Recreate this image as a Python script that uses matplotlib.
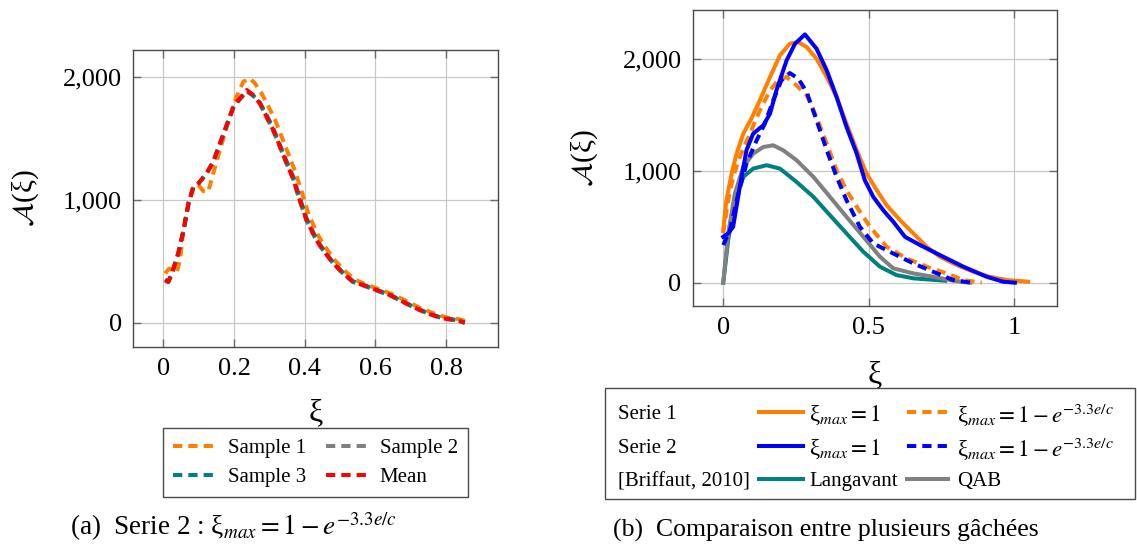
import matplotlib
matplotlib.use("Agg")
import matplotlib.pyplot as plt
from matplotlib.lines import Line2D
from matplotlib.patches import Rectangle
from matplotlib.ticker import FuncFormatter

plt.rcParams['font.family'] = ['Liberation Serif', 'DejaVu Serif']
plt.rcParams['mathtext.fontset'] = 'stix'

# ---------------- data: left panel (Serie 2) ----------------
s1_x = [0.005, 0.016, 0.028, 0.038, 0.047, 0.057, 0.071, 0.085, 0.099, 0.113, 0.127, 0.141, 0.160, 0.188,
        0.207, 0.226, 0.245, 0.259, 0.278, 0.297, 0.316, 0.335, 0.354, 0.373, 0.392, 0.411, 0.438, 0.457,
        0.486, 0.514, 0.542, 0.570, 0.608, 0.646, 0.684, 0.722, 0.760, 0.798, 0.835, 0.862]
s1_y = [401, 440, 430, 415, 509, 753, 980, 1110, 1120, 1070, 1065, 1214, 1404, 1675,
        1837, 1959, 1986, 1946, 1864, 1760, 1650, 1510, 1370, 1230, 1060, 880, 710, 620,
        505, 420, 350, 315, 275, 235, 182, 127, 82, 45, 30, 8]

s2_x = [0.005, 0.014, 0.024, 0.042, 0.057, 0.071, 0.085, 0.099, 0.122, 0.141, 0.160, 0.179, 0.198, 0.212,
        0.236, 0.254, 0.273, 0.292, 0.311, 0.330, 0.349, 0.367, 0.386, 0.405, 0.433, 0.452, 0.481, 0.509,
        0.537, 0.565, 0.603, 0.641, 0.678, 0.716, 0.754, 0.792, 0.829, 0.853]
s2_y = [340, 330, 395, 560, 750, 965, 1100, 1130, 1212, 1305, 1452, 1600, 1745, 1800,
        1880, 1845, 1780, 1670, 1560, 1425, 1290, 1168, 990, 830, 668, 588, 480, 398,
        330, 303, 262, 222, 168, 114, 68, 33, 20, 0]

s3_x = [0.005, 0.014, 0.024, 0.042, 0.057, 0.071, 0.085, 0.099, 0.122, 0.141, 0.160, 0.179, 0.198, 0.212,
        0.236, 0.254, 0.273, 0.292, 0.311, 0.330, 0.349, 0.367, 0.386, 0.405, 0.433, 0.452, 0.481, 0.509,
        0.537, 0.565, 0.603, 0.641, 0.678, 0.716, 0.754, 0.792, 0.829, 0.853]
s3_y = [345, 335, 398, 562, 752, 968, 1104, 1131, 1213, 1307, 1455, 1604, 1750, 1805,
        1885, 1848, 1790, 1690, 1580, 1445, 1310, 1190, 1015, 850, 680, 598, 488, 405,
        336, 309, 268, 228, 173, 119, 72, 37, 23, 2]

mean_x = [0.005, 0.014, 0.024, 0.042, 0.057, 0.071, 0.085, 0.099, 0.122, 0.141, 0.160, 0.179, 0.198, 0.212,
          0.236, 0.254, 0.273, 0.292, 0.311, 0.330, 0.349, 0.367, 0.386, 0.405, 0.433, 0.452, 0.481, 0.509,
          0.537, 0.565, 0.603, 0.641, 0.678, 0.716, 0.754, 0.792, 0.829, 0.853]
mean_y = [352, 333, 401, 564, 753, 970, 1106, 1133, 1214, 1309, 1458, 1607, 1756, 1810,
          1892, 1851, 1783, 1675, 1566, 1431, 1295, 1173, 997, 835, 672, 591, 482, 401,
          333, 306, 266, 225, 171, 117, 70, 35, 22, 0]

# ---------------- data: right panel ----------------
s1max1_x = [0.0, 0.011, 0.029, 0.046, 0.069, 0.097, 0.126, 0.161, 0.195, 0.229, 0.258, 0.287, 0.321, 0.356,
            0.390, 0.424, 0.459, 0.493, 0.528, 0.562, 0.608, 0.654, 0.700, 0.745, 0.803, 0.860, 0.917,
            0.975, 1.049]
s1max1_y = [470, 737, 975, 1153, 1331, 1465, 1629, 1837, 2030, 2134, 2149, 2104, 2000, 1837,
            1658, 1420, 1183, 975, 826, 692, 559, 440, 321, 232, 158, 98, 53,
            24, 9]

s2max1_x = [0.0, 0.017, 0.034, 0.057, 0.080, 0.103, 0.138, 0.161, 0.183, 0.218, 0.247, 0.281, 0.321, 0.356,
            0.390, 0.424, 0.459, 0.487, 0.516, 0.550, 0.585, 0.625, 0.677, 0.745, 0.826, 0.906, 0.963,
            1.003]
s2max1_y = [410, 440, 499, 856, 1183, 1331, 1406, 1510, 1718, 1985, 2134, 2217, 2089, 1896,
            1658, 1391, 1153, 915, 767, 648, 544, 410, 336, 247, 143, 53, 9,
            0]

s1exp_x = [0.0, 0.017, 0.034, 0.057, 0.092, 0.126, 0.161, 0.189, 0.218, 0.252, 0.287, 0.321, 0.356, 0.390,
           0.424, 0.459, 0.505, 0.562, 0.631, 0.700, 0.768, 0.826, 0.889]
s1exp_y = [440, 737, 945, 1123, 1331, 1539, 1718, 1807, 1837, 1762, 1673, 1480, 1242, 1004,
           826, 678, 499, 321, 217, 143, 83, 24, 0]

s2exp_x = [0.0, 0.023, 0.052, 0.080, 0.115, 0.143, 0.172, 0.200, 0.229, 0.258, 0.287, 0.321, 0.356, 0.390,
           0.424, 0.470, 0.516, 0.573, 0.654, 0.722, 0.791, 0.854]
s2exp_y = [336, 470, 796, 1064, 1272, 1420, 1628, 1807, 1872, 1822, 1703, 1450, 1183, 945,
           737, 499, 351, 276, 172, 98, 24, 0]

qab_x = [0.0, 0.017, 0.040, 0.069, 0.103, 0.138, 0.172, 0.206, 0.252, 0.310, 0.367, 0.424, 0.482, 0.539,
         0.585, 0.654, 0.722, 0.791, 0.849]
qab_y = [0, 440, 796, 1034, 1153, 1212, 1227, 1183, 1094, 945, 767, 588, 410, 232,
         128, 83, 53, 18, 0]

lang_x = [0.0, 0.017, 0.040, 0.069, 0.103, 0.149, 0.195, 0.252, 0.310, 0.367, 0.424, 0.482, 0.539, 0.596,
          0.654, 0.763]
lang_y = [0, 380, 737, 945, 1019, 1049, 1019, 900, 767, 603, 440, 276, 143, 68,
          39, 18]

left_xticks = [0, 0.2, 0.4, 0.6, 0.8]
right_xticks = [0, 0.5, 1]
yticks = [0, 1000, 2000]

ORANGE = '#FF8000'
GRAY = '#808080'
TEAL = '#008080'
RED = '#FF0000'
BLUE = '#0000FF'
FRAME = '#4a4a4a'

W, H = 1137, 544
fig = plt.figure(figsize=(W / 100, H / 100), dpi=100)


def fx(px):
    return px / W


def fy(py):
    return 1 - py / H


def px_rect(x0, y0, x1, y1):
    return [x0 / W, 1 - y1 / H, (x1 - x0) / W, (y1 - y0) / H]


ax1 = fig.add_axes(px_rect(133, 50, 498, 347))
ax2 = fig.add_axes(px_rect(692.7, 10, 1057.3, 306))

TICK_FS = 19
LEG_FS = 15
MATH_FS = 16.5
DASH = (2.3, 1.5)
lw = 2.9

xfmt = FuncFormatter(lambda v, _: '%g' % v)
yfmt = FuncFormatter(lambda v, _: f'{v:,.0f}')

for ax in (ax1, ax2):
    ax.grid(True, color='#c8c8c8', lw=0.9)
    ax.set_axisbelow(True)
    for sp in ax.spines.values():
        sp.set_color(FRAME)
        sp.set_linewidth(1.0)
    ax.tick_params(direction='in', length=6, width=1.0, color='#6a6a6a',
                   top=True, right=True, labelsize=TICK_FS, pad=8)
    ax.set_yticks(yticks)
    ax.xaxis.set_major_formatter(xfmt)
    ax.yaxis.set_major_formatter(yfmt)
    ax.set_ylabel(r'$\mathcal{A}$(ξ)', fontsize=21, labelpad=16)

ax1.set_xlabel('ξ', fontsize=23, labelpad=13)
ax2.set_xlabel('ξ', fontsize=23, labelpad=15)

# left panel
ax1.plot(s1_x, s1_y, color=ORANGE, lw=lw, dashes=DASH, label='Sample 1')
ax1.plot(s2_x, s2_y, color=GRAY, lw=lw, dashes=DASH, label='Sample 2')
ax1.plot(s3_x, s3_y, color=TEAL, lw=lw, dashes=DASH, label='Sample 3')
ax1.plot(mean_x, mean_y, color=RED, lw=lw, dashes=DASH, label='Mean')
ax1.set_xticks(left_xticks)
ax1.set_xlim(-0.086, 0.947)
ax1.set_ylim(-197, 2217)

# right panel
ax2.plot(lang_x, lang_y, color=TEAL, lw=lw)
ax2.plot(qab_x, qab_y, color=GRAY, lw=lw)
ax2.plot(s1exp_x, s1exp_y, color=ORANGE, lw=lw, dashes=DASH)
ax2.plot(s2exp_x, s2exp_y, color=BLUE, lw=lw, dashes=DASH)
ax2.plot(s1max1_x, s1max1_y, color=ORANGE, lw=lw)
ax2.plot(s2max1_x, s2max1_y, color=BLUE, lw=lw)
ax2.set_xticks(right_xticks)
ax2.set_xlim(-0.105, 1.149)
ax2.set_ylim(-208, 2435)

# left legend
h1 = ax1.get_lines()
leg1_handles = [h1[0], h1[2], h1[1], h1[3]]
leg1_labels = ['Sample 1', 'Sample 3', 'Sample 2', 'Mean']
leg1 = fig.legend(leg1_handles, leg1_labels, ncol=2, loc='upper left',
                  bbox_to_anchor=(fx(163), fy(428)), borderaxespad=0,
                  fontsize=LEG_FS, handlelength=2.0, handletextpad=0.6,
                  columnspacing=0.95, labelspacing=0.45, borderpad=0.5,
                  fancybox=False, edgecolor=FRAME, framealpha=1)
leg1.get_frame().set_linewidth(1.0)

# right legend (table-like, drawn in figure coordinates)
lab_max1 = r'ξ$_{max} = 1$'
lab_exp = r'ξ$_{max} = 1 - e^{-3.3e/c}$'
row_labels = ['Serie 1', 'Serie 2', '[Briffaut, 2010]']
col2_labels = [lab_max1, lab_max1, 'Langavant']
col3_labels = [lab_exp, lab_exp, 'QAB']
col2_styles = [dict(color=ORANGE), dict(color=BLUE), dict(color=TEAL)]
col3_styles = [dict(color=ORANGE, dashes=DASH), dict(color=BLUE, dashes=DASH), dict(color=GRAY)]
row_y = [412, 446, 479]

fig.add_artist(Rectangle((fx(605), fy(499)), fx(1135) - fx(605), fy(388) - fy(499),
                         transform=fig.transFigure, facecolor='white',
                         edgecolor=FRAME, lw=1.0))
for i, yy in enumerate(row_y):
    fig.text(fx(618), fy(yy), row_labels[i], ha='left', va='center_baseline', fontsize=LEG_FS)
    fig.add_artist(Line2D([fx(759), fx(803)], [fy(yy), fy(yy)], transform=fig.transFigure,
                          lw=lw, **col2_styles[i]))
    fs2 = MATH_FS if '$' in col2_labels[i] else LEG_FS
    fig.text(fx(809), fy(yy), col2_labels[i], ha='left', va='center_baseline', fontsize=fs2)
    fig.add_artist(Line2D([fx(907), fx(948)], [fy(yy), fy(yy)], transform=fig.transFigure,
                          lw=lw, **col3_styles[i]))
    fs3 = MATH_FS if '$' in col3_labels[i] else LEG_FS
    fig.text(fx(957), fy(yy), col3_labels[i], ha='left', va='center_baseline', fontsize=fs3)

# captions
fig.text(fx(233), fy(527), r'(a)  Serie 2 : ξ$_{max} = 1 - e^{-3.3e/c}$',
         ha='center', va='center', fontsize=19.5)
fig.text(fx(826), fy(530), '(b)  Comparaison entre plusieurs gâchées',
         ha='center', va='center', fontsize=18.5)

fig.savefig('out.png', dpi=100)
